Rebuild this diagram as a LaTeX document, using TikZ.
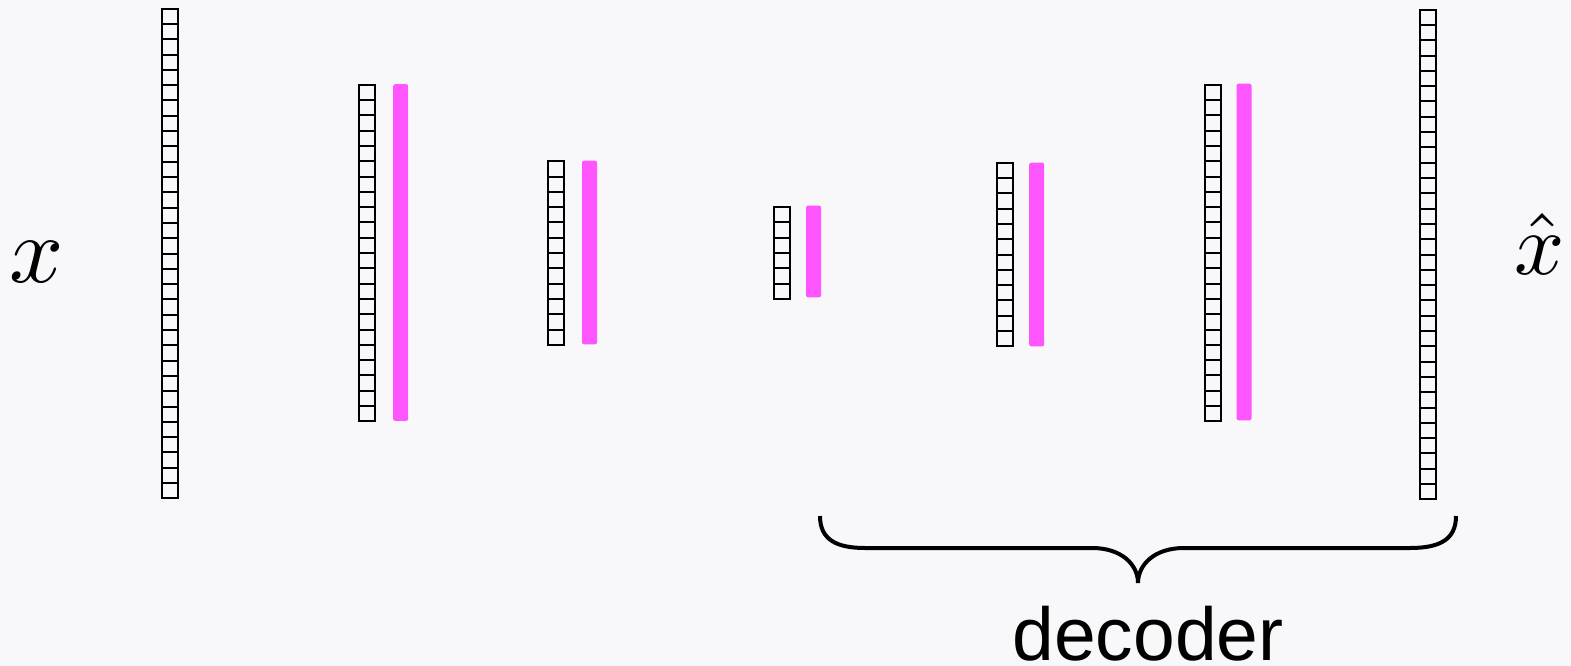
\documentclass[tikz,border=0pt]{standalone}
\usepackage{fontspec}
\newfontfamily\labelfont{Liberation Sans}
\usetikzlibrary{positioning}
\definecolor{aeBack}{RGB}{248,248,250}
\definecolor{aePink}{RGB}{255,85,255}

\begin{document}
\begin{tikzpicture}[x=1pt,y=-1pt]
        \def\cw{15.3}
        \fill[aeBack] (0,0) rectangle (1571,666);
        % unit columns: centre x / number of cells / centre y
        \foreach \x/\n/\m in {170/32/253.5, 367/22/253, 556/12/253, 782/6/253, 1005/12/254.5, 1213/22/253, 1428/32/254.5} {
          \foreach \i in {1,...,\n} {
            \draw[line width=2pt] (\x-\cw/2,\m-\n*\cw/2+\i*\cw-\cw) rectangle ++(\cw,\cw);
          }
        }
        % activation bars next to the hidden layers
        \foreach \x/\n/\m in {400.7/22/252.5, 589.5/12/252.5, 813.5/6/251.5, 1036.7/12/254.5, 1244/22/252} {
          \fill[aePink,rounded corners=2pt] (\x-7.5,\m-\n*\cw/2) rectangle ++(15,\n*\cw);
        }
        \node[anchor=base,inner sep=0pt,scale=9.5] (input) at (37,282) {$x$};
        \node[anchor=base,inner sep=0pt,scale=8.8] (output) at (1540,274) {$\hat{x}$};
        % brace under the decoder half
        \coordinate (braceL) at (820,516);
        \coordinate (braceR) at (1456,516);
        \coordinate (braceTip) at (1138,583);
        \draw[line width=4pt] (braceL) .. controls (820,540) and (837,548) .. (865,548) -- (1092,548)
          .. controls (1122,548) and (1138,565) .. (braceTip)
          .. controls (1138,565) and (1154,548) .. (1184,548) -- (1410,548)
          .. controls (1439,548) and (1456,540) .. (braceR);
        \node[anchor=base,inner sep=0pt,font=\labelfont\fontsize{75}{75}\selectfont] (dec) at (1148,660) {decoder};
      \end{tikzpicture}
\end{document}
